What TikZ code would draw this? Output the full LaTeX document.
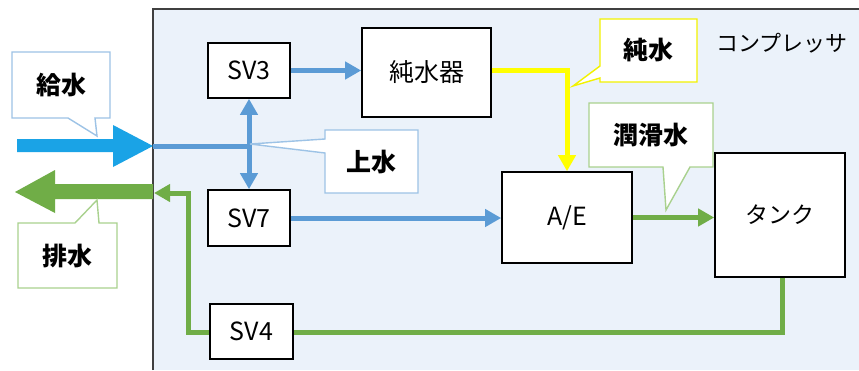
\documentclass[tikz,border=0pt]{standalone}
\usepackage{fontspec}
\setmainfont{Noto Sans CJK JP}
\usetikzlibrary{arrows.meta}
\definecolor{bgblue}{HTML}{EBF2FA}
\definecolor{pipeblue}{HTML}{5B9BD5}
\definecolor{feedcyan}{HTML}{1AA3E6}
\definecolor{pipegreen}{HTML}{70AD47}
\definecolor{pipeyellow}{HTML}{FFFF00}
\definecolor{calblue}{HTML}{9DC3E6}
\definecolor{calgreen}{HTML}{A9D18E}
\definecolor{calyellow}{HTML}{F2F200}
\definecolor{frame}{HTML}{404040}
\tikzset{
  unit/.style={draw=black, line width=1.6pt, fill=white, inner sep=0pt,
    font=\fontsize{25pt}{30pt}\selectfont},
  calltext/.style={inner sep=0pt, font=\fontsize{25pt}{30pt}\selectfont\bfseries},
  callout/.style={fill=white, line width=1.4pt},
  bluepipe/.style={draw=pipeblue, line width=5pt},
  greenpipe/.style={draw=pipegreen, line width=5pt},
  yellowpipe/.style={draw=pipeyellow, line width=5pt},
  tipb/.style={-{Triangle[length=16pt,width=17pt]}},
  tipbb/.style={{Triangle[length=16pt,width=17pt]}-{Triangle[length=16pt,width=17pt]}},
}
\begin{document}
\begin{tikzpicture}[x=1pt,y=-1pt]
\useasboundingbox (0,0) rectangle (859,370);
\fill[white] (0,0) rectangle (859,370);
% compressor frame
\fill[bgblue] (153,9) rectangle (859,370);
\draw[frame, line width=2pt] (153,370) -- (153,9) -- (859,9);
\node[anchor=west, inner sep=0pt, font=\fontsize{22pt}{26pt}\selectfont] (comp) at (716,43) {コンプレッサ};

% units
\node[unit, minimum width=82pt, minimum height=55pt] (sv3) at (249,70.5) {SV3};
\node[unit, minimum width=129pt, minimum height=89pt] (pw) at (426.5,72.5) {純水器};
\node[unit, minimum width=82pt, minimum height=56pt] (sv7) at (249,218) {SV7};
\node[unit, minimum width=83pt, minimum height=55pt] (sv4) at (251.5,331.5) {SV4};
\node[unit, minimum width=130pt, minimum height=91pt] (ae) at (567,217.5) {A/E};
\node[unit, minimum width=130pt, minimum height=124pt, font=\fontsize{23pt}{28pt}\selectfont] (tank) at (780,215) {タンク};

% coordinates
\coordinate (inlet) at (153,146);
\coordinate (jn) at (249,146);
\coordinate (ycorner) at (567,70);
\coordinate (tankdown) at (782,332);
\coordinate (sv4l) at (188,332);
\coordinate (sv4up) at (188,193);
\coordinate (drainend) at (154,193);

% feed arrow (big cyan)
\fill[feedcyan] (17,139) -- (113,139) -- (113,125) -- (inlet) -- (113,167) -- (113,152) -- (17,152) -- cycle;
% drain arrow (big green)
\fill[pipegreen] (153,184) -- (55,184) -- (55,170) -- (15,192) -- (55,213) -- (55,199) -- (153,199) -- cycle;

% blue pipes
\draw[bluepipe] (inlet) -- (jn);
\draw[bluepipe, tipbb] (sv3.south) -- (sv7.north);
\draw[bluepipe, tipb] (sv3.east) -- (sv3.east -| pw.west);
\draw[bluepipe, tipb] (sv7.east) -- (sv7.east -| ae.west);
% yellow pipe
\draw[yellowpipe, tipb] (pw.east |- ycorner) -- (ycorner) -- (ae.north);
% green pipes
\draw[greenpipe, tipb] (ae.east) -- (ae.east -| tank.west);
\draw[greenpipe] (tankdown |- tank.south) -- (tankdown) -- (sv4.east |- tankdown);
\draw[greenpipe, tipb] (sv4.west |- sv4l) -- (sv4l) -- (sv4up) -- (drainend);

% callouts
\draw[callout, draw=calblue] (12,52) -- (110,52) -- (110,118) -- (95,118) -- (97,136) -- (68,118) -- (12,118) -- cycle;
\node[calltext] (c1) at (61,85) {給水};

\draw[callout, draw=calblue] (325,130) -- (418,130) -- (418,193) -- (325,193) -- (325,153) -- (250,144) -- (325,139) -- cycle;
\node[calltext] (c2) at (371.5,162) {上水};

\draw[callout, draw=calyellow] (600,19) -- (697,19) -- (697,82) -- (600,82) -- (600,78) -- (573,86) -- (600,66) -- cycle;
\node[calltext] (c3) at (648.5,50.5) {純水};

\draw[callout, draw=calgreen] (589,103) -- (713,103) -- (713,167) -- (690,167) -- (666,210) -- (663,167) -- (589,167) -- cycle;
\node[calltext] (c4) at (651,135) {潤滑水};

\draw[callout, draw=calgreen] (18,223) -- (75,223) -- (97,200) -- (99,223) -- (117,223) -- (117,288) -- (18,288) -- cycle;
\node[calltext] (c5) at (67.5,255.5) {排水};
\end{tikzpicture}
\end{document}
